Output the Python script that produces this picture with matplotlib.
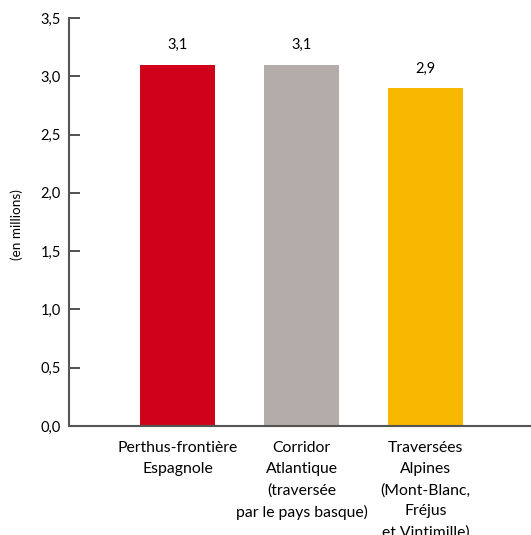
import matplotlib.pyplot as plt
import numpy as np

plt.rcParams['font.family'] = ['Lato', 'DejaVu Sans']

categories = ['Perthus-frontière\nEspagnole',
              'Corridor\nAtlantique\n(traversée\npar le pays basque)',
              'Traversées\nAlpines\n(Mont-Blanc,\nFréjus\net Vintimille)']
values = [3.1, 3.1, 2.9]
value_labels = ['3,1', '3,1', '2,9']
colors = ['#D0021B', '#B3ACA9', '#F9B800']
yticks = [0.0, 0.5, 1.0, 1.5, 2.0, 2.5, 3.0, 3.5]

fig = plt.figure(figsize=(5.31, 5.35), dpi=100)
ax = fig.add_axes([69 / 531, 109 / 535, 462 / 531, 408 / 535])

x = np.arange(len(categories))
bars = ax.bar(x, values, width=0.605, color=colors)

for b, lab in zip(bars, value_labels):
    ax.annotate(lab, (b.get_x() + b.get_width() / 2, b.get_height()),
                xytext=(0, 9), textcoords='offset points',
                ha='center', va='bottom', fontsize=10.5)

ax.set_xlim(-0.875, 2.85)
ax.set_ylim(0, 3.5)
ax.set_yticks(yticks)
ax.set_yticklabels([f'{v:.1f}'.replace('.', ',') for v in yticks], fontsize=10.5)
ax.set_xticks(x)
ax.set_xticklabels(categories, fontsize=11.3, linespacing=1.62, va='top')

for s in ['top', 'right']:
    ax.spines[s].set_visible(False)
for s in ['left', 'bottom']:
    ax.spines[s].set_color('#555555')
    ax.spines[s].set_linewidth(1.5)

ax.tick_params(axis='y', direction='in', length=8, width=1.2, color='#333333', pad=6)
ax.tick_params(axis='x', length=0, pad=11)

fig.text(17 / 531, 1 - 225 / 535, '(en millions)', rotation=90,
         ha='center', va='center', fontsize=9.7)

fig.savefig('out.png', dpi=100)
